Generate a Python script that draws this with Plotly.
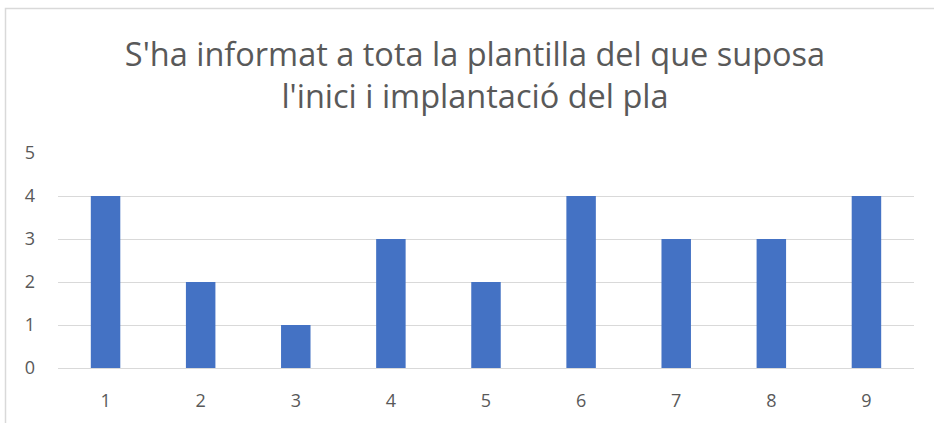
import plotly.graph_objects as go

categories = ["1", "2", "3", "4", "5", "6", "7", "8", "9"]
values = [4, 2, 1, 3, 2, 4, 3, 3, 4]
y_ticks = [0, 1, 2, 3, 4, 5]
title_text = "S'ha informat a tota la plantilla del que suposa<br>l'inici i implantació del pla"

W, H = 934, 423
L, R, T, B = 58, 20, 153, 55
pw, ph = W - L - R, H - T - B

def px_x(p):
    return (p - L) / pw

def px_y(p):
    return (H - B - p) / ph

fig = go.Figure()
fig.add_trace(go.Bar(x=categories, y=values, marker_color="#4472C4", marker_line_width=0))

fig.update_layout(
    width=W, height=H,
    margin=dict(l=L, r=R, t=T, b=B),
    paper_bgcolor="white", plot_bgcolor="white",
    bargap=0.69,
    showlegend=False,
    font=dict(family="Open Sans, sans-serif", color="#595959"),
    title=dict(text=title_text, x=475 / W, xanchor="center", xref="container",
               y=1 - 66 / H, yanchor="middle", yref="container",
               font=dict(size=32.5, color="#595959", family="Open Sans, sans-serif")),
    xaxis=dict(type="category", showgrid=False, zeroline=False, showline=False,
               ticks="", ticklabelstandoff=20, tickfont=dict(size=18, color="#595959")),
    yaxis=dict(range=[0, 5], tickvals=y_ticks, showgrid=True, gridcolor="#D9D9D9",
               gridwidth=1, zeroline=True, zerolinecolor="#D9D9D9", zerolinewidth=1,
               showline=False, ticks="", ticklabelstandoff=22,
               tickfont=dict(size=18, color="#595959")),
    shapes=[dict(type="rect", xref="paper", yref="paper",
                 x0=px_x(5.5), x1=px_x(940), y0=px_y(430), y1=px_y(8.5),
                 line=dict(color="#D9D9D9", width=1.5), fillcolor="rgba(0,0,0,0)",
                 layer="below")],
)

fig.write_html("out.html")
